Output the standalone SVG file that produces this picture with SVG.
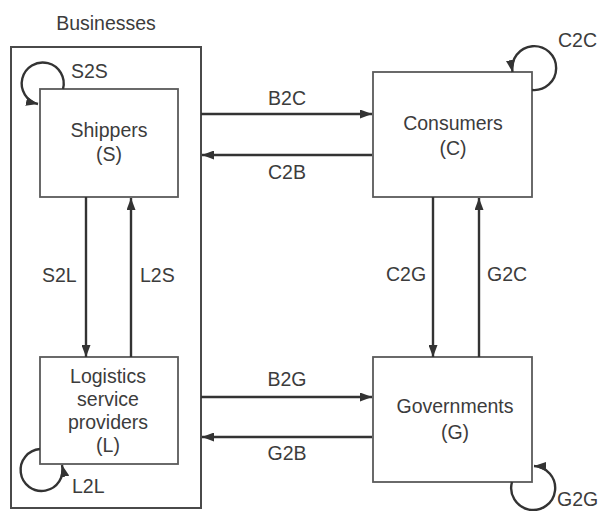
<svg xmlns="http://www.w3.org/2000/svg" width="601" height="511" viewBox="0 0 601 511">
<style>
text{font-family:"Liberation Sans",Arial,sans-serif;font-size:19.5px;fill:#3c3c3c}
.c{text-anchor:middle}
.box{fill:#fff;stroke:#5a5a5a;stroke-width:1.8}
.outer{fill:none;stroke:#4a4a4a;stroke-width:2}
.ln{fill:none;stroke:#333;stroke-width:2.4}
</style>
<defs>
<marker id="ah" viewBox="0 0 12 9" refX="12" refY="4.5" markerWidth="12" markerHeight="9" markerUnits="userSpaceOnUse" orient="auto">
<path d="M0,0 L12,4.5 L0,9 z" fill="#333"/>
</marker>
</defs>
<rect x="0" y="0" width="601" height="511" fill="#fff"/>
<g id="businesses">
<rect class="outer" x="11" y="47" width="190" height="461"/>
<text class="c" x="106" y="30">Businesses</text>
</g>
<g id="shippers">
<rect class="box" x="40" y="89" width="138" height="108"/>
<text class="c" x="109" y="137">Shippers</text>
<text class="c" x="109" y="161">(S)</text>
</g>
<g id="logistics">
<rect class="box" x="40" y="357" width="138" height="107"/>
<text class="c" x="108" y="383">Logistics</text>
<text class="c" x="108" y="406">service</text>
<text class="c" x="108" y="429">providers</text>
<text class="c" x="108" y="452">(L)</text>
</g>
<g id="consumers">
<rect class="box" x="373" y="72" width="159" height="125"/>
<text class="c" x="453" y="130">Consumers</text>
<text class="c" x="453" y="155">(C)</text>
</g>
<g id="governments">
<rect class="box" x="373" y="357" width="159" height="125"/>
<text class="c" x="455" y="413">Governments</text>
<text class="c" x="455" y="439">(G)</text>
</g>
<g id="connectors">
<path class="ln" d="M201,114 H372" marker-end="url(#ah)"/>
<path class="ln" d="M372,155 H202" marker-end="url(#ah)"/>
<path class="ln" d="M201,397 H372" marker-end="url(#ah)"/>
<path class="ln" d="M372,437 H202" marker-end="url(#ah)"/>
<path class="ln" d="M86,197 V357" marker-end="url(#ah)"/>
<path class="ln" d="M131,357 V198" marker-end="url(#ah)"/>
<path class="ln" d="M433,197 V357" marker-end="url(#ah)"/>
<path class="ln" d="M479,357 V198" marker-end="url(#ah)"/>
<path class="ln" d="M63,89 A21,21 0 1 0 38,104" marker-end="url(#ah)"/>
<path class="ln" d="M532,90 A22,22 0 1 0 512.5,72" marker-end="url(#ah)"/>
<path class="ln" d="M40,449 A21,21 0 1 0 62,465" marker-end="url(#ah)"/>
<path class="ln" d="M512,482 A22,22 0 1 0 534,466" marker-end="url(#ah)"/>
<text class="c" x="287" y="105">B2C</text>
<text class="c" x="287" y="179">C2B</text>
<text class="c" x="287" y="386">B2G</text>
<text class="c" x="287" y="460">G2B</text>
<text x="42" y="282">S2L</text>
<text x="140" y="282">L2S</text>
<text x="386" y="281">C2G</text>
<text x="487" y="281">G2C</text>
<text x="71" y="78">S2S</text>
<text x="558" y="47">C2C</text>
<text x="72" y="493">L2L</text>
<text x="557" y="506">G2G</text>
</g>
</svg>
